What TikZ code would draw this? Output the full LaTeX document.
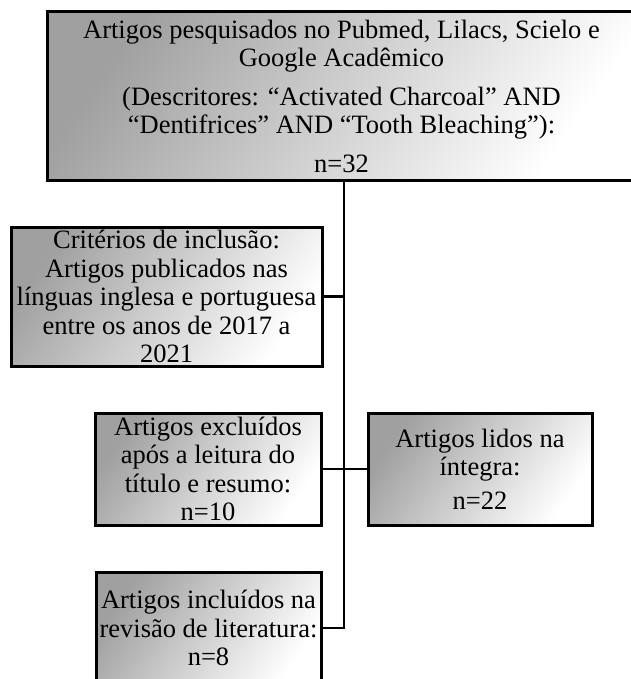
\documentclass[tikz,border=0pt]{standalone}
\usepackage{fontspec}
\setmainfont{Liberation Serif}
\definecolor{boxgray}{RGB}{160,160,160}
\begin{document}
\begin{tikzpicture}[x=1pt,y=-1pt,
  box/.style={draw=black, line width=3pt, shading=axis, top color=boxgray, bottom color=white, shading angle=55,
    align=center, inner sep=0pt, font=\fontsize{26.5}{28.5}\selectfont},
  link/.style={draw=black, line width=2.5pt}]
\useasboundingbox (0,0) rectangle (630,679);
\node[box, minimum width=589pt, minimum height=168pt] (top) at (341.5,96)
  {Artigos pesquisados no Pubmed, Lilacs, Scielo e\\ Google Acadêmico\\[10pt]
   (Descritores: “Activated Charcoal” AND\\ “Dentifrices” AND “Tooth Bleaching”):\\[10pt] n=32};
\node[box, minimum width=311pt, minimum height=139pt] (crit) at (166.5,296.5)
  {Critérios de inclusão:\\ Artigos publicados nas\\ línguas inglesa e portuguesa\\ entre os anos de 2017 a\\ 2021};
\node[box, minimum width=226pt, minimum height=112pt] (excl) at (208,469)
  {Artigos excluídos\\ após a leitura do\\ título e resumo:\\ n=10};
\node[box, minimum width=224pt, minimum height=112pt] (lidos) at (480,469)
  {Artigos lidos na\\ íntegra:\\[5pt] n=22};
\node[box, minimum width=225pt, minimum height=112pt] (incl) at (208.5,628)
  {Artigos incluídos na\\ revisão de literatura:\\ n=8};
\coordinate (t1) at (344,628);
\draw[link] (top.south -| t1) -- (t1) -- (incl.east);
\draw[link] (crit.east) -- (crit.east -| t1);
\draw[link] (excl.east) -- (lidos.west);
\end{tikzpicture}
\end{document}
